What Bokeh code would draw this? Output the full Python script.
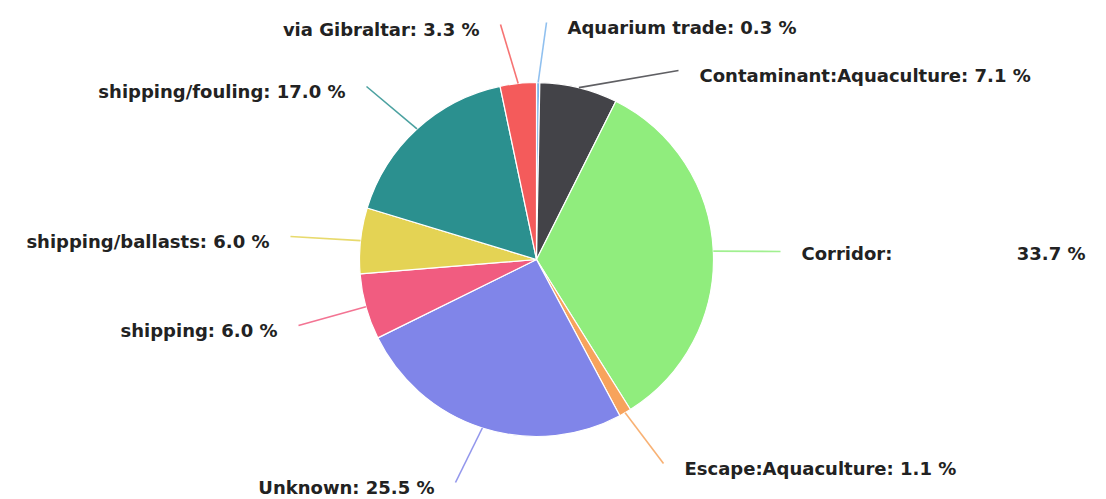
import math
from bokeh.plotting import figure
from bokeh.models import ColumnDataSource, Range1d
from bokeh.core.properties import value
from bokeh.embed import file_html
from bokeh.resources import INLINE

# ---- data ----
categories = ["Aquarium trade", "Contaminant:Aquaculture", "Corridor", "Escape:Aquaculture",
              "Unknown", "shipping", "shipping/ballasts", "shipping/fouling", "via Gibraltar"]
percentages = [0.3, 7.1, 33.7, 1.1, 25.5, 6.0, 6.0, 17.0, 3.3]
colors = ["#7cb5ec", "#434348", "#90ed7d", "#f7a35c", "#8085e9",
          "#f15c80", "#e4d354", "#2b908f", "#f45b5b"]

# ---- layout (pixels) ----
W, H = 1100, 497
CX, CY, R = 536, H - 259, 177
# connector end offsets from pie centre (dx right, dy down), per label
label_offsets = [(10, -237), (142, -189), (244, -8), (127, 204), (-81, 223),
                 (-238, 66), (-246, -23), (-170, -173), (-36, -235)]
TEXT_GAP = 21
FONT = "DejaVu Sans"
FSIZE = "18px"
CORRIDOR_VALUE_RIGHT = 1085

total = sum(percentages)
starts, ends, mids = [], [], []
cum = 0.0
for v in percentages:
    a0 = math.pi / 2 - 2 * math.pi * cum / total
    cum += v
    a1 = math.pi / 2 - 2 * math.pi * cum / total
    starts.append(a0)
    ends.append(a1)
    mids.append((a0 + a1) / 2)

p = figure(width=W, height=H, x_range=Range1d(0, W), y_range=Range1d(0, H),
           output_backend="svg", toolbar_location=None, min_border=0)
p.axis.visible = False
p.grid.visible = False
p.outline_line_color = None
p.background_fill_color = "white"

src = ColumnDataSource(dict(start=starts, end=ends, color=colors))
p.wedge(x=CX, y=CY, radius=R, start_angle="start", end_angle="end", direction="clock",
        fill_color="color", line_color="white", line_width=1.2, source=src)

xs, ys, tx, ty, txt, align = [], [], [], [], [], []
val_x, val_y, val_t = [], [], []
for name, v, col, m, (dx, dy) in zip(categories, percentages, colors, mids, label_offsets):
    sx = CX + R * math.cos(m)
    sy = CY + R * math.sin(m)
    ex = CX + dx
    ey = CY - dy
    xs.append([sx, ex])
    ys.append([sy, ey])
    right = dx > 0
    if name == "Corridor":
        tx.append(ex + TEXT_GAP)
        txt.append(f"{name}:")
        val_x.append(CORRIDOR_VALUE_RIGHT)
        val_y.append(ey - 2)
        val_t.append(f"{v:.1f} %")
        ty.append(ey - 2)
    else:
        tx.append(ex + TEXT_GAP if right else ex - TEXT_GAP)
        txt.append(f"{name}: {v:.1f} %")
        ty.append(ey - 5)
    align.append("left" if right else "right")

p.multi_line(xs=xs, ys=ys, line_color=colors, line_width=1.6, line_alpha=0.85)

lsrc = ColumnDataSource(dict(x=tx, y=ty, t=txt, a=align))
p.text(x="x", y="y", text="t", text_align="a", text_baseline="middle",
       text_font=value(FONT), text_font_style="bold", text_font_size=FSIZE,
       text_color="#222222", source=lsrc)
p.text(x=val_x, y=val_y, text=val_t, text_align="right", text_baseline="middle",
       text_font=value(FONT), text_font_style="bold", text_font_size=FSIZE,
       text_color="#222222")

open("out.html", "w").write(file_html(p, INLINE))
